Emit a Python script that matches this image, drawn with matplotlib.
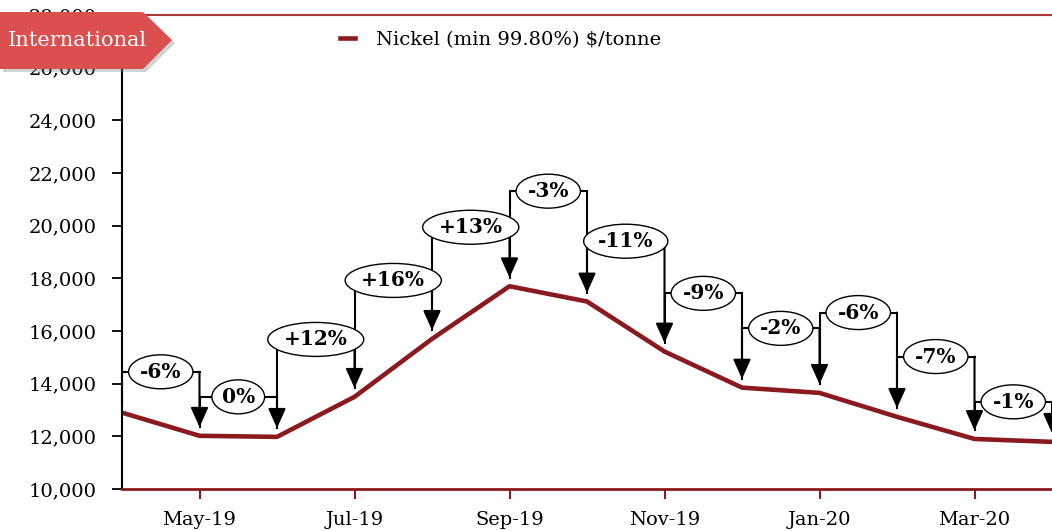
import numpy as np
import matplotlib.pyplot as plt
from matplotlib.patches import Polygon
from matplotlib.ticker import StrMethodFormatter

plt.rcParams['font.family'] = ['DejaVu Serif']

# monthly nickel price, Apr-19 .. Apr-20
months = ['Apr-19', 'May-19', 'Jun-19', 'Jul-19', 'Aug-19', 'Sep-19', 'Oct-19',
          'Nov-19', 'Dec-19', 'Jan-20', 'Feb-20', 'Mar-20', 'Apr-20']
prices = [12900, 12020, 11980, 13500, 15700, 17700, 17120,
          15220, 13850, 13650, 12740, 11900, 11790]
# month-on-month change labels and the height of their brackets
changes = ['-6%', '0%', '+12%', '+16%', '+13%', '-3%',
           '-11%', '-9%', '-2%', '-6%', '-7%', '-1%']
levels = [14450, 13500, 15680, 17920, 19940, 21310,
          19410, 17430, 16100, 16700, 15030, 13310]
tick_months = ['May-19', 'Jul-19', 'Sep-19', 'Nov-19', 'Jan-20', 'Mar-20']

red = '#8b1a1f'
W, H = 1052, 531

fig = plt.figure(figsize=(W / 100, H / 100), dpi=100)
ax = fig.add_axes([122 / W, 1 - 489 / H, 1 - 122 / W, (489 - 15) / H])

x = np.arange(len(months))
ax.plot(x, prices, color=red, lw=3.3, label='Nickel (min 99.80%) $/tonne', zorder=2)

# bracket arrows with % change
gap = 330
for i, (lab, lev) in enumerate(zip(changes, levels), start=1):
    ax.plot([i - 1, i - 1, i], [prices[i - 1] + gap, lev, lev], color='black', lw=1.5,
            clip_on=False, zorder=3)
    ax.annotate('', xy=(i, prices[i] + gap), xytext=(i, lev),
                arrowprops=dict(arrowstyle='-|>,head_length=0.6,head_width=0.27',
                                color='black', lw=1.5,
                                mutation_scale=20, shrinkA=0, shrinkB=0),
                annotation_clip=False, zorder=3)
    ax.text(i - 0.5, lev, lab, ha='center', va='center', fontsize=14.5, fontweight='bold',
            zorder=4, bbox=dict(boxstyle='ellipse,pad=0.1', fc='white', ec='black', lw=1))

ax.set_xlim(0, len(months) - 1)
ax.set_ylim(10000, 28000)
ax.set_yticks(np.arange(10000, 28001, 2000))
ax.yaxis.set_major_formatter(StrMethodFormatter('{x:,.0f}'))
ax.set_xticks([months.index(m) for m in tick_months])
ax.set_xticklabels(tick_months)

ax.tick_params(axis='y', length=7, width=1.3, color='black', labelsize=14, pad=11)
ax.tick_params(axis='x', length=7, width=1.5, color=red, labelcolor='black',
               labelsize=14, pad=9)
ax.spines['right'].set_visible(False)
ax.spines['left'].set_linewidth(1.5)
ax.spines['bottom'].set_color(red)
ax.spines['bottom'].set_linewidth(2)
ax.spines['top'].set_color('#a8383b')
ax.spines['top'].set_linewidth(1.5)

ax.legend(loc='center left', bbox_to_anchor=(340 / W, 1 - 40 / H),
          bbox_transform=fig.transFigure, frameon=False, fontsize=14,
          handlelength=0.75, handletextpad=1.1, borderpad=0, borderaxespad=0)

# "International" banner
def fpts(pts):
    return [(px / W, 1 - py / H) for px, py in pts]

banner = [(0, 12), (143, 12), (172, 40), (143, 69), (0, 69)]
shadow = [(px + 3, py + 3) for px, py in banner]
fig.add_artist(Polygon(fpts(shadow), closed=True, fc='gray', ec='none', alpha=0.35,
                       transform=fig.transFigure, zorder=5))
fig.add_artist(Polygon(fpts(banner), closed=True, fc='#db4f4f', ec='none',
                       transform=fig.transFigure, zorder=6))
fig.text(77 / W, 1 - 41 / H, 'International', color='white', fontsize=15,
         ha='center', va='center', zorder=7)

fig.savefig('out.png', dpi=100)
